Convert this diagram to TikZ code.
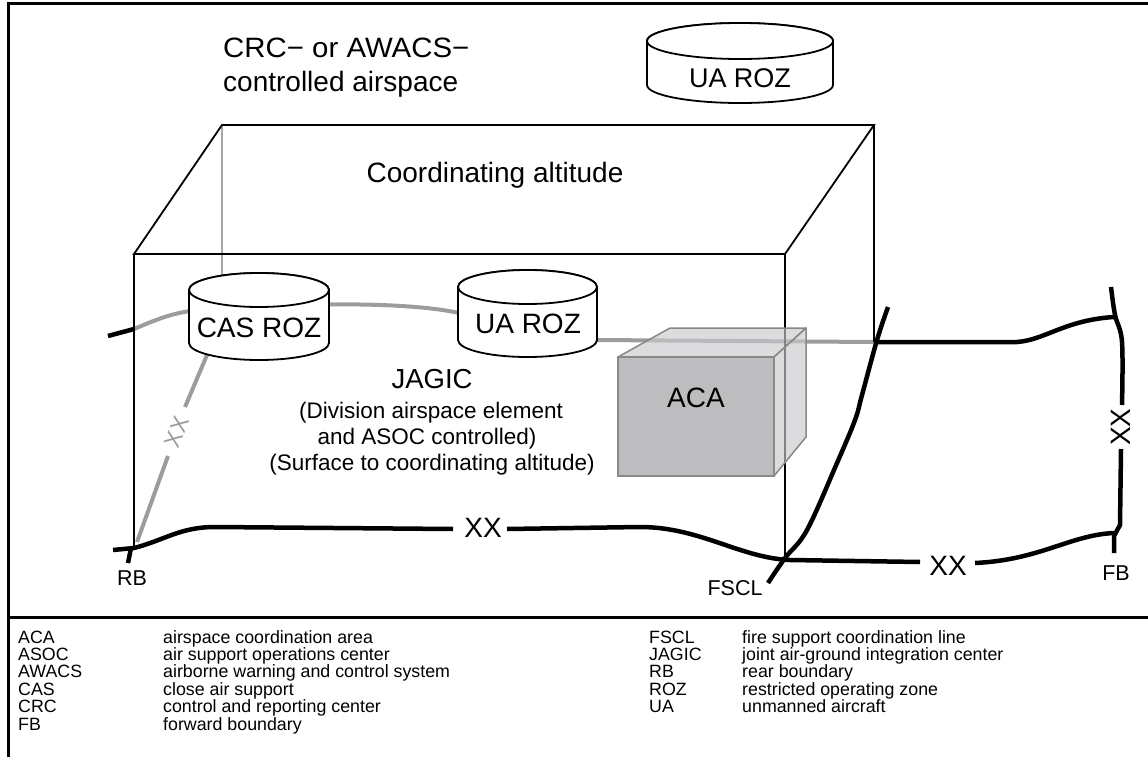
\documentclass[tikz,border=0pt]{standalone}
\usepackage{fontspec}
\setmainfont{Liberation Sans}
\definecolor{gline}{HTML}{9C9C9C}
\definecolor{gedge}{HTML}{A8A8A8}
\definecolor{acafront}{HTML}{BDBDBF}
\definecolor{acaside}{HTML}{C9C9CD}
\definecolor{acaedge}{HTML}{888888}
\newcommand\rozcyl[5]{%
  \filldraw[cylst] ({#1-#4},#2) -- ({#1-#4},#3)
    arc[start angle=180,end angle=0,x radius=#4,y radius=#5] -- ({#1+#4},#2)
    arc[start angle=0,end angle=-180,x radius=#4,y radius=#5] -- cycle;
  \draw[cylst] (#1,#2) ellipse[x radius=#4,y radius=#5];}
\begin{document}
\begin{tikzpicture}[x=1pt,y=-1pt,
  frameline/.style={line width=3pt,black},
  edge/.style={line width=1.8pt,black},
  ground/.style={line width=4.5pt,black,line join=round},
  gground/.style={line width=4pt,gline,line join=round},
  cylst/.style={line width=1.8pt,black,fill=white},
  big/.style={font=\fontsize{28}{32}\selectfont,inner sep=0pt},
  midtxt/.style={font=\fontsize{22.5}{26}\selectfont,inner sep=0pt},
  lab/.style={font=\fontsize{21.5}{24}\selectfont,inner sep=0pt},
  leg/.style={font=\fontsize{17.8}{18}\selectfont,inner sep=0pt,anchor=base west}]
\useasboundingbox (0,0) rectangle (1148,757);
% frame
\draw[frameline] (1150,4) -- (8,4) -- (8,760);
\draw[frameline] (8,617) -- (1150,617);
% grey back ground line
\draw[ground] (108,336) -- (134,329);
\draw[gground] (134,329) .. controls (160,318) and (175,312) .. (200,310)
  .. controls (280,304) and (400,300) .. (459,313)
  .. controls (500,330) and (560,340) .. (597,340) -- (874,342);
% hidden back-left edge
\draw[line width=1.3pt,gedge] (222,125) -- (222,290);
% box edges
\draw[edge] (874,125) -- (874,342);
\draw[edge] (134,254) -- (222,125) -- (874,125) -- (785,254) -- cycle;
\draw[edge] (134,254) -- (134,550);
\draw[edge] (785,254) -- (785,560);
% grey RB line
\draw[gground] (137,542) -- (168,456);
\draw[gground] (185,407) -- (207,355);
\node[font=\fontsize{23}{26}\selectfont,text=gline,rotate=69,inner sep=0pt] (xxg) at (177,432) {XX};
% cylinders
\rozcyl{259}{290}{343}{70}{17}
\rozcyl{527.5}{287}{340}{69.5}{17}
\rozcyl{740}{41}{85}{93}{18}
\node[big,anchor=base] (cas) at (259,337) {CAS ROZ};
\node[big,anchor=base] (uamid) at (528,333) {UA ROZ};
\node[big,anchor=base,font=\fontsize{27}{30}\selectfont] (uatop) at (740,88) {UA ROZ};
% ACA box
\filldraw[fill=acaside,fill opacity=0.65,draw=acaedge,line width=1.5pt,line join=round]
  (618,357) -- (670,328) -- (806,328) -- (774,357) -- cycle;
\filldraw[fill=acaside,fill opacity=0.65,draw=acaedge,line width=1.5pt,line join=round]
  (774,357) -- (806,328) -- (806,437) -- (774,476) -- cycle;
\filldraw[fill=acafront,draw=acaedge,line width=1.5pt] (618,357) rectangle (774,476);
\node[big,anchor=base] (aca) at (696,407) {ACA};
% black ground lines
\draw[ground] (874,342) -- (1017,342) .. controls (1045,340) and (1065,320) .. (1114,317);
\draw[ground] plot[smooth,tension=0.6] coordinates {(1111,287) (1115,315) (1122,342) (1122,405)};
\draw[ground] (1121,449) -- (1120,525) -- (1114,536) -- (1114,553);
\draw[ground] (113,550) -- (134,548) .. controls (165,540) and (180,527) .. (215,527) -- (453,529);
\draw[ground] (131,548) -- (128,563);
\draw[ground] (507,529) -- (640,527) .. controls (700,527) and (740,558) .. (790,560) -- (920,562);
\draw[ground] (975,563) .. controls (1040,560) and (1070,535) .. (1114,533);
\draw[ground] plot[smooth,tension=0.6] coordinates {(888,307) (877,340) (862,395) (855,420) (837,463) (807,530) (785,558) (768,583)};
% line labels
\node[big,anchor=base] (xxb1) at (483,537) {XX};
\node[big,anchor=base] (xxb2) at (948,575) {XX};
\node[big,rotate=90] (xxr) at (1121,427) {XX};
\node[lab,anchor=base] (rb) at (132,585) {RB};
\node[lab,anchor=base] (fscl) at (735,595) {FSCL};
\node[lab,anchor=base] (fb) at (1116,580) {FB};
% texts
\node[big,anchor=base west] (crc1) at (223,58) {\scalebox{1.05}[1]{CRC− or AWACS−}};
\node[big,anchor=base west] (crc2) at (223,92) {controlled airspace};
\node[big,anchor=base] (coord) at (495,182) {Coordinating altitude};
\node[font=\fontsize{27.5}{30}\selectfont,inner sep=0pt,anchor=base] (jagic) at (432,388) {JAGIC};
\node[midtxt,anchor=base] (j1) at (431,418) {(Division airspace element};
\node[midtxt,anchor=base] (j2) at (427,444) {and ASOC controlled)};
\node[midtxt,anchor=base] (j3) at (432,470) {(Surface to coordinating altitude)};
% legend
\foreach \a/\b [count=\i] in {ACA/airspace coordination area,ASOC/air support operations center,AWACS/airborne warning and control system,CAS/close air support,CRC/control and reporting center,FB/forward boundary}
{ \node[leg] (la\i) at (18,{643+17.4*(\i-1)}) {\a};
  \node[leg] (lb\i) at (163,{643+17.4*(\i-1)}) {\b}; }
\foreach \a/\b [count=\i] in {FSCL/fire support coordination line,JAGIC/joint air-ground integration center,RB/rear boundary,ROZ/restricted operating zone,UA/unmanned aircraft}
{ \node[leg] (lc\i) at (649,{643+17.4*(\i-1)}) {\a};
  \node[leg] (ld\i) at (742,{643+17.4*(\i-1)}) {\b}; }
\end{tikzpicture}
\end{document}
